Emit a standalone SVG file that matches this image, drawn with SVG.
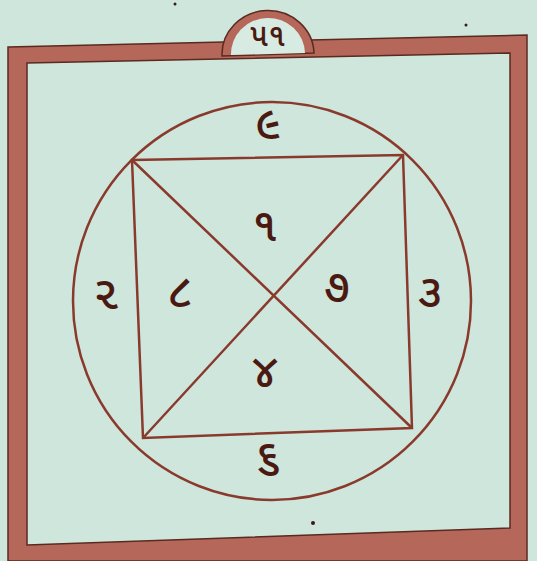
<svg xmlns="http://www.w3.org/2000/svg" width="537" height="561" viewBox="0 0 537 561">
<style>
.num{font-family:"Noto Sans Gujarati","Noto Sans","DejaVu Sans",sans-serif;font-size:46px;font-weight:500;fill:#4a1a12;text-anchor:middle;dominant-baseline:central}
.ln{stroke:#8a3a2c;stroke-width:2.5;fill:none}
</style>
<rect width="537" height="561" fill="#cfe6dc"/>
<g id="frame">
<path d="M8,47 L527,35 L527,561 L8,561 Z M27,63 L510,53 L510,528 L27,545 Z" fill="#b5675a" fill-rule="evenodd" stroke="#5a2a20" stroke-width="1.5"/>
</g>
<g id="tab">
<path d="M222,56 A46,44 0 0 1 314,53 Z" fill="#b5675a" stroke="#5a2a20" stroke-width="1.5"/>
<path d="M231,55 A37,36 0 0 1 305,53 Z" fill="#d8ebe2"/>
<text class="num" x="268" y="38" style="font-size:32px">૫૧</text>
</g>
<g id="connectors">
<circle cx="272" cy="301" r="199" class="ln" stroke-width="4" stroke="#9a4535"/>
<path class="ln" d="M132,160 L403,155 L412,428 L143,438 Z"/>
<path class="ln" d="M132,160 L412,428 M403,155 L143,438"/>
</g>
<g id="n9"><text class="num" x="268" y="128">૯</text></g>
<g id="n1"><text class="num" x="265" y="230">૧</text></g>
<g id="n2"><text class="num" x="106" y="298">૨</text></g>
<g id="n8"><text class="num" x="180" y="296">૮</text></g>
<g id="n7"><text class="num" x="337" y="291">૭</text></g>
<g id="n3"><text class="num" x="430" y="296">૩</text></g>
<g id="n4"><text class="num" x="265" y="376">૪</text></g>
<g id="n6"><text class="num" x="268" y="461">૬</text></g>
<g id="dots" fill="#3a1a14">
<circle cx="175" cy="4" r="1.5"/>
<circle cx="466" cy="25" r="1.5"/>
<circle cx="313" cy="523" r="2"/>
</g>
</svg>
